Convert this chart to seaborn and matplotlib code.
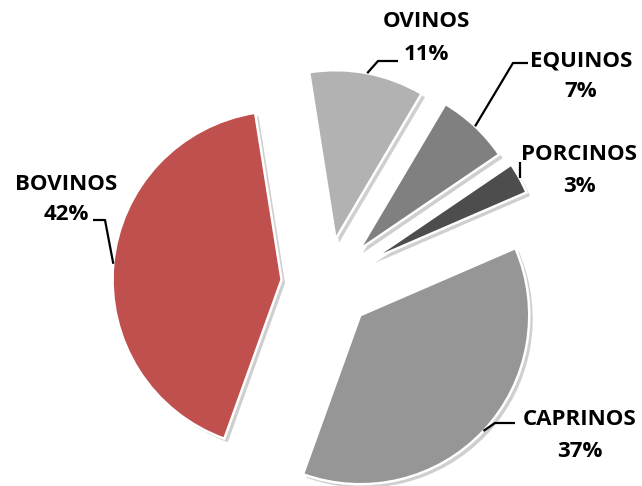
import matplotlib
matplotlib.use("Agg")
import matplotlib.pyplot as plt
import seaborn as sns
import numpy as np
from matplotlib import patheffects as pe

# ---- data (clockwise from the top) ----
categories = ["OVINOS", "EQUINOS", "PORCINOS", "CAPRINOS", "BOVINOS"]
values = [11, 7, 3, 37, 42]

# ---- style ----
colors = ["#B2B2B2", "#808080", "#4D4D4D", "#969696", "#C0504D"]
explode_frac = [0.27, 0.28, 0.30, 0.27, 0.27]

sns.set_theme(style="white")
plt.rcParams["font.family"] = ["Open Sans", "DejaVu Sans"]

W, H = 642, 486
fig = plt.figure(figsize=(W / 100, H / 100), dpi=100)
ax = fig.add_axes([0, 0, 1, 1])

R = 169
cx, cy = 327, H - 284
wedges, _ = ax.pie(values, colors=colors, explode=[e * R for e in explode_frac],
                   startangle=99, counterclock=False, radius=R, center=(cx, cy),
                   wedgeprops=dict(edgecolor="white", linewidth=1.8))
for w in wedges:
    w.set_path_effects([pe.SimplePatchShadow(offset=(2.5, -2.5), shadow_rgbFace="#888888", alpha=0.4),
                        pe.Normal()])

ax.set_xlim(0, W)
ax.set_ylim(0, H)
ax.set_aspect("equal")
ax.axis("off")

# label layout (screen pixel coords, y down): name baseline, pct baseline, center x, leader bends
label_x = [426, 581, 579, 580, 66]
name_base = [27, 67, 160, 425, 190]
pct_base = [60, 97, 192, 457, 220]
leader_bends = [
    [(378, 61), (398, 61)],
    [(513, 63), (528, 63)],
    [(None, 162)],
    [(495, 423), (515, 423)],
    [(105, 220), (93, 220)],
]

for i, w in enumerate(wedges):
    mid = np.deg2rad((w.theta1 + w.theta2) / 2)
    wx, wy = w.center
    sx, sy = wx + R * np.cos(mid), wy + R * np.sin(mid)
    xs, ys = [sx], [sy]
    for bx, by in leader_bends[i]:
        xs.append(sx if bx is None else bx)
        ys.append(H - by)
    ax.plot(xs, ys, color="black", lw=1.6, solid_capstyle="butt")
    ax.text(label_x[i], H - name_base[i], categories[i], ha="center", va="baseline",
            fontsize=16, fontweight="bold", color="black")
    ax.text(label_x[i], H - pct_base[i], f"{values[i]}%", ha="center", va="baseline",
            fontsize=16, fontweight="bold", color="black")

fig.savefig("out.png", dpi=100)
